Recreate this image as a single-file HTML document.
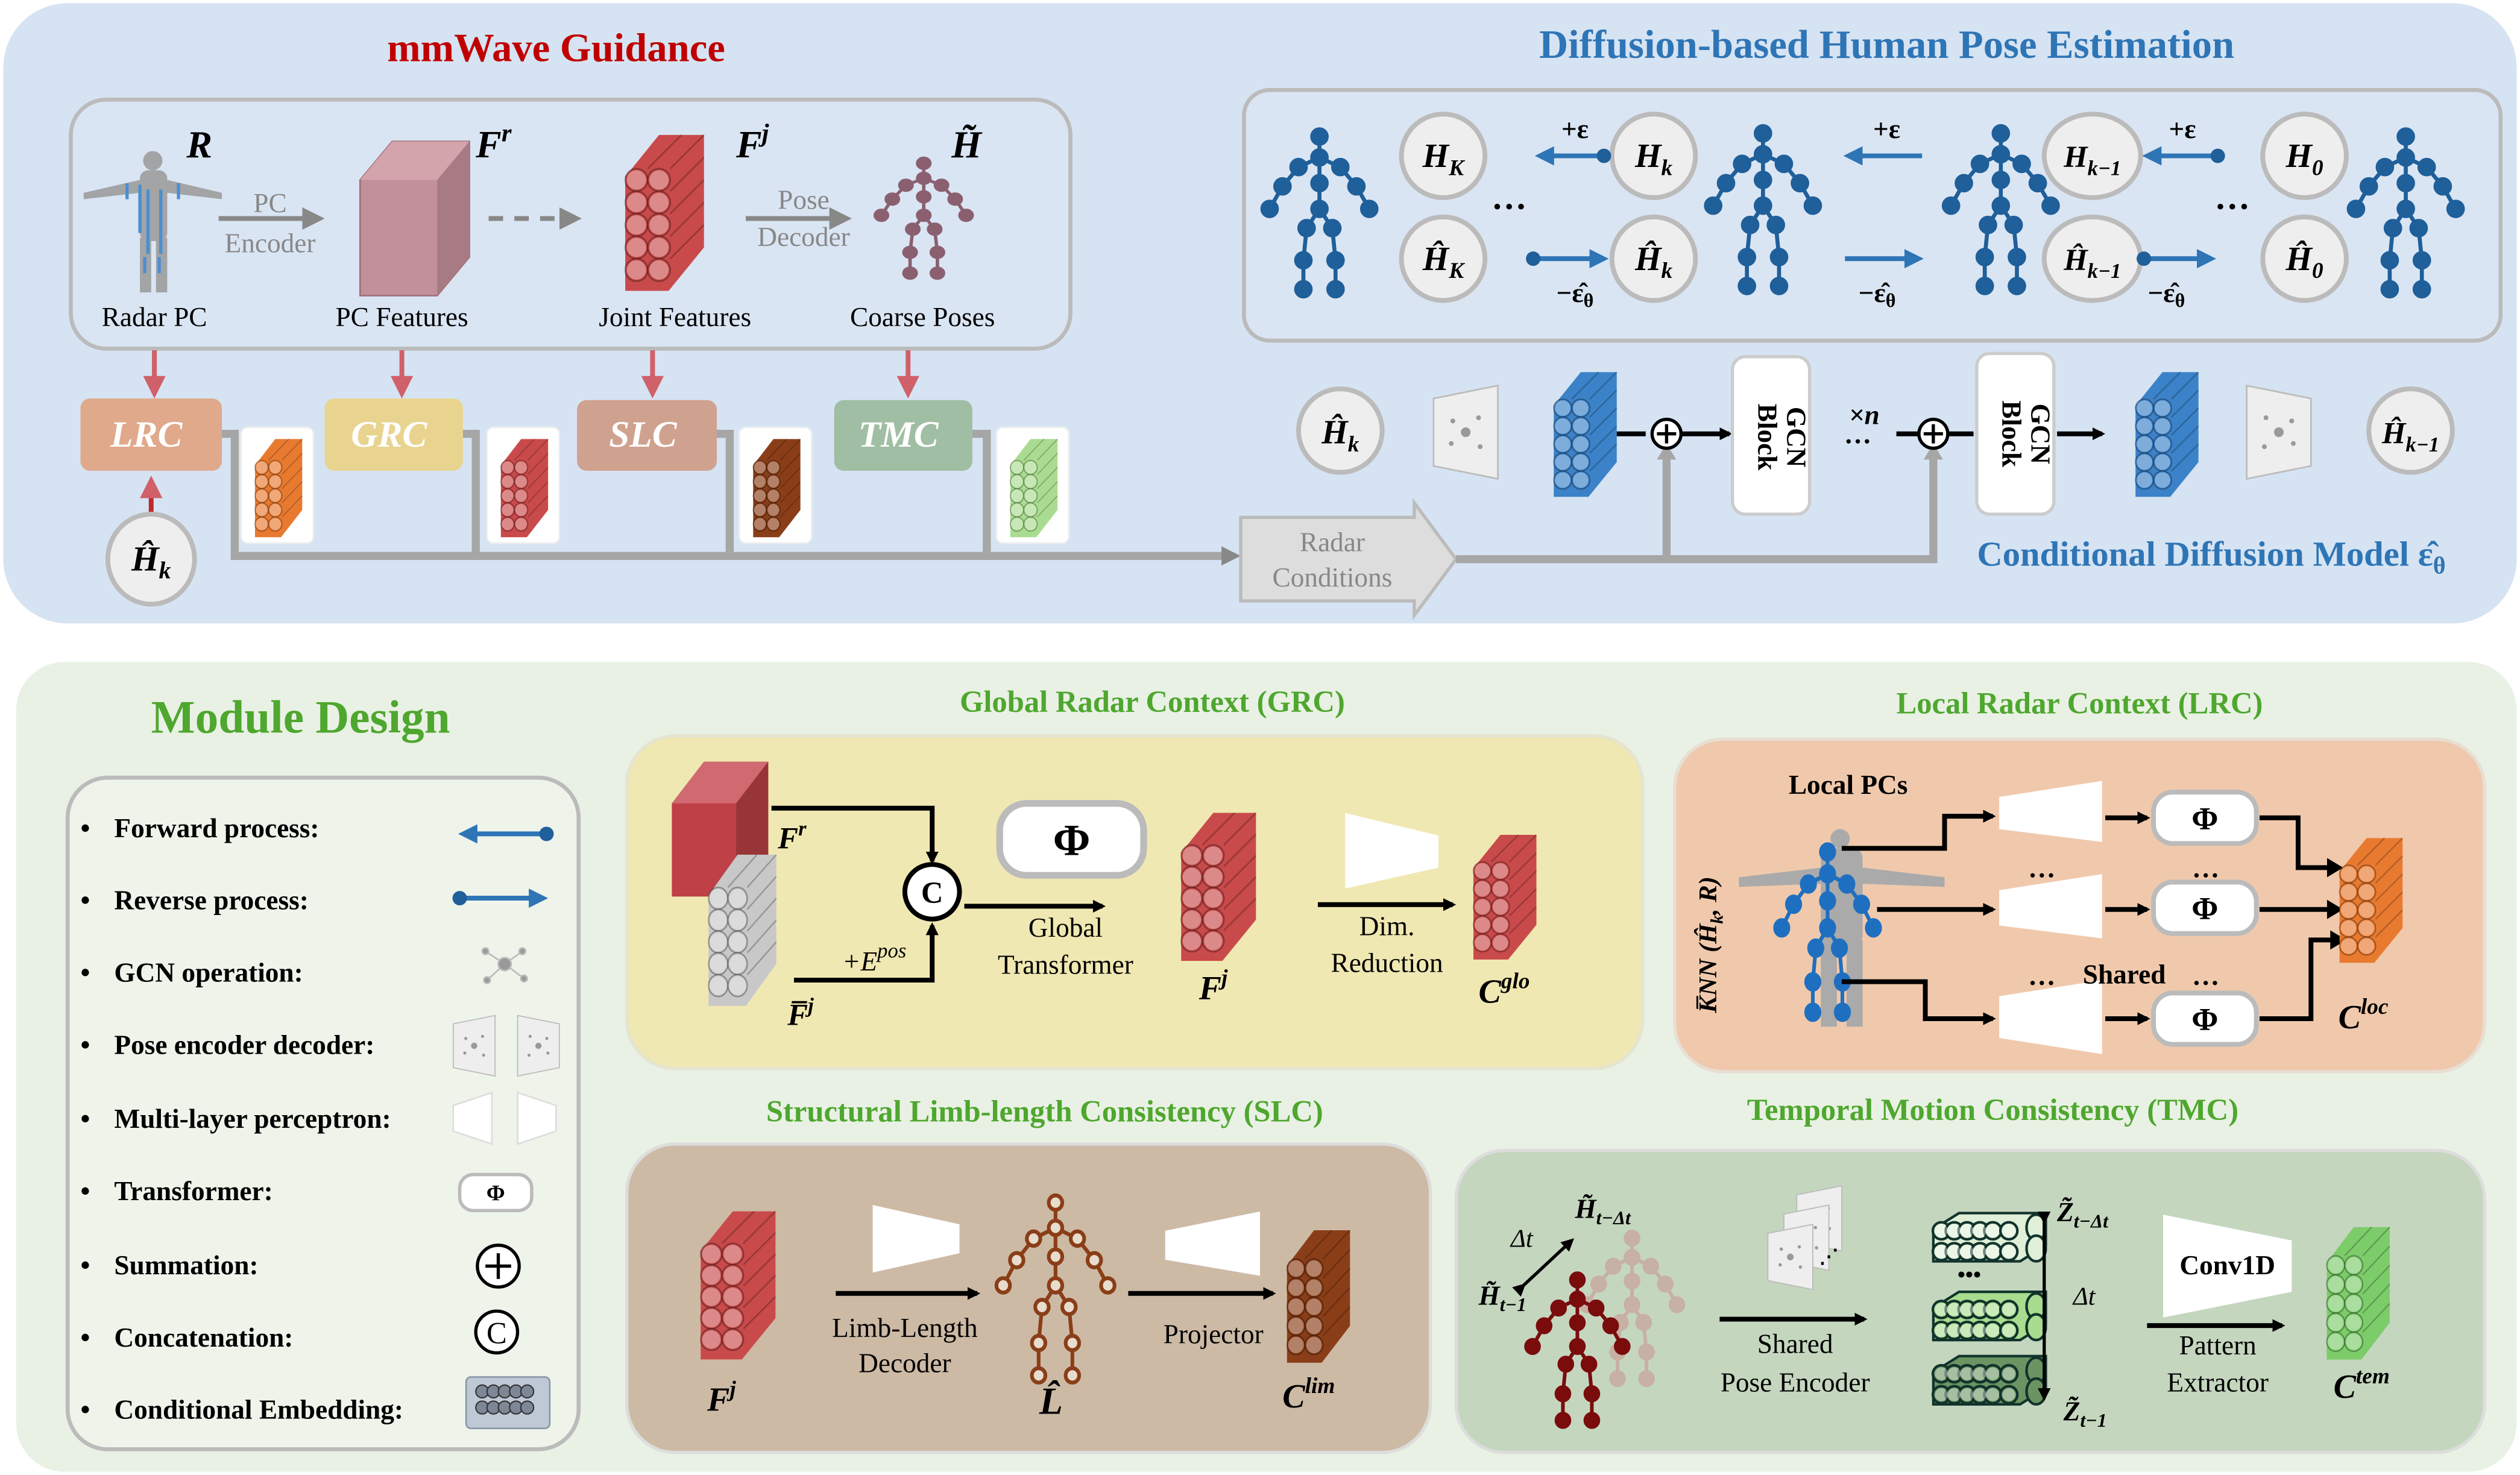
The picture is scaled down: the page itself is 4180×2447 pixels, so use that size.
<!DOCTYPE html>
<html><head><meta charset="utf-8"><style>
html,body{margin:0;padding:0;background:#fff;width:4180px;height:2447px;overflow:hidden}
svg{display:block}
text{font-family:"Liberation Serif",serif}
.m{font-style:italic;font-weight:bold}
.b{font-weight:bold}
.g{fill:#4ea72e;font-weight:bold;font-size:19px}
.lg{font-weight:bold;font-size:17px}
</style></head><body>
<svg width="4180" height="2447" viewBox="0 0 1568 918" xmlns="http://www.w3.org/2000/svg">
<defs>
<marker id="ah" markerWidth="8" markerHeight="8" refX="6" refY="4" orient="auto" markerUnits="userSpaceOnUse"><path d="M0,0 L8,4 L0,8z" fill="#000"/></marker>
<marker id="ahr" markerWidth="14" markerHeight="14" refX="10" refY="7" orient="auto" markerUnits="userSpaceOnUse"><path d="M0,0 L14,7 L0,14z" fill="#d0606a"/></marker>
<marker id="ahb" markerWidth="12" markerHeight="12" refX="9" refY="6" orient="auto" markerUnits="userSpaceOnUse"><path d="M0,0 L12,6 L0,12z" fill="#2e75b6"/></marker>
<marker id="ahg" markerWidth="14" markerHeight="14" refX="10" refY="7" orient="auto" markerUnits="userSpaceOnUse"><path d="M0,0 L14,7 L0,14z" fill="#888"/></marker>
<marker id="dotb" markerWidth="10" markerHeight="10" refX="5" refY="5" markerUnits="userSpaceOnUse"><circle cx="5" cy="5" r="4.5" fill="#1f5f9a"/></marker>
<g id="stk">
<polygon points="1,28 22,2 50,2 50,72 28,99 1,99" fill="currentColor"/>
<g stroke="#000" stroke-opacity=".25" stroke-width="1">
<line x1="15" y1="23" x2="36" y2="2"/><line x1="29" y1="23" x2="50" y2="2"/>
<line x1="29" y1="37" x2="50" y2="16"/><line x1="29" y1="51" x2="50" y2="30"/><line x1="29" y1="65" x2="50" y2="44"/><line x1="29" y1="79" x2="50" y2="58"/>
</g>
<g fill="currentColor" stroke="#000" stroke-opacity=".3">
<circle cx="8" cy="30" r="7"/><circle cx="22" cy="30" r="7"/><circle cx="8" cy="44" r="7"/><circle cx="22" cy="44" r="7"/><circle cx="8" cy="58" r="7"/><circle cx="22" cy="58" r="7"/><circle cx="8" cy="72" r="7"/><circle cx="22" cy="72" r="7"/><circle cx="8" cy="86" r="7"/><circle cx="22" cy="86" r="7"/>
</g>
<g fill="#fff" fill-opacity=".35">
<circle cx="8" cy="30" r="6"/><circle cx="22" cy="30" r="6"/><circle cx="8" cy="44" r="6"/><circle cx="22" cy="44" r="6"/><circle cx="8" cy="58" r="6"/><circle cx="22" cy="58" r="6"/><circle cx="8" cy="72" r="6"/><circle cx="22" cy="72" r="6"/><circle cx="8" cy="86" r="6"/><circle cx="22" cy="86" r="6"/>
</g>
</g>
<g id="hst" stroke="#12332c" stroke-width="1.6">
<polygon points="0,4 16,-6 70,-6 70,14 54,24 0,24" fill="currentColor"/>
<ellipse cx="64" cy="3" rx="6" ry="8" fill="currentColor"/>
<ellipse cx="64" cy="16" rx="6" ry="8" fill="currentColor"/>
<g fill="currentColor"><circle cx="5" cy="5" r="5.3"/><circle cx="13" cy="5" r="5.3"/><circle cx="21" cy="5" r="5.3"/><circle cx="29" cy="5" r="5.3"/><circle cx="37" cy="5" r="5.3"/><circle cx="47" cy="5" r="5.3"/>
<circle cx="5" cy="18" r="5.3"/><circle cx="13" cy="18" r="5.3"/><circle cx="21" cy="18" r="5.3"/><circle cx="29" cy="18" r="5.3"/><circle cx="37" cy="18" r="5.3"/><circle cx="47" cy="18" r="5.3"/></g>
<g fill="#fff" fill-opacity=".4" stroke="none"><circle cx="5" cy="5" r="4"/><circle cx="13" cy="5" r="4"/><circle cx="21" cy="5" r="4"/><circle cx="29" cy="5" r="4"/><circle cx="37" cy="5" r="4"/><circle cx="47" cy="5" r="4"/>
<circle cx="5" cy="18" r="4"/><circle cx="13" cy="18" r="4"/><circle cx="21" cy="18" r="4"/><circle cx="29" cy="18" r="4"/><circle cx="37" cy="18" r="4"/><circle cx="47" cy="18" r="4"/></g>
</g>
<g id="skel" stroke="currentColor" stroke-width="2.5" fill="currentColor">
<path d="M35,5 V18 M22,24 L35,18 L48,24 M22,24 L12,36 L4,50 M48,24 L58,36 L66,50 M35,18 V50 M35,50 L27,62 L25,82 L25,100 M35,50 L43,62 L45,82 L45,100" fill="none"/>
<circle cx="35" cy="5" r="4.5"/><circle cx="35" cy="18" r="4.5"/><circle cx="22" cy="24" r="4.5"/><circle cx="48" cy="24" r="4.5"/><circle cx="12" cy="36" r="4.5"/><circle cx="58" cy="36" r="4.5"/><circle cx="4" cy="50" r="4.5"/><circle cx="66" cy="50" r="4.5"/><circle cx="35" cy="34" r="4.5"/><circle cx="35" cy="50" r="4.5"/><circle cx="27" cy="62" r="4.5"/><circle cx="43" cy="62" r="4.5"/><circle cx="25" cy="82" r="4.5"/><circle cx="45" cy="82" r="4.5"/><circle cx="25" cy="100" r="4.5"/><circle cx="45" cy="100" r="4.5"/>
</g>
<g id="penc">
<polygon points="0,8 40,0 40,58 0,50" fill="#eee" stroke="#bbb"/>
<g fill="#999"><circle cx="20" cy="29" r="3"/><circle cx="12" cy="22" r="1.5"/><circle cx="28" cy="20" r="1.5"/><circle cx="11" cy="36" r="1.5"/><circle cx="29" cy="38" r="1.5"/></g>
</g>
<g id="circ"><circle cx="0" cy="0" r="26" fill="#eee" stroke="#bbb" stroke-width="3"/></g>
<g id="phi"><rect x="0" y="0" width="64" height="32" rx="12" fill="#fff" stroke="#bbb" stroke-width="3"/><text x="32" y="23" text-anchor="middle" class="b" font-size="20">Φ</text></g>
</defs>

<!-- TOP PANEL -->
<rect x="2" y="2" width="1564" height="386" rx="40" fill="#d6e3f2"/>
<text x="346" y="38" text-anchor="middle" class="b" font-size="25" fill="#c00000">mmWave Guidance</text>
<text x="1174" y="36" text-anchor="middle" class="b" font-size="25" fill="#2e75b6">Diffusion-based Human Pose Estimation</text>
<rect x="44" y="62" width="622" height="155" rx="22" fill="#dae5f3" stroke="#bbb" stroke-width="2.5"/>
<rect x="774" y="56" width="782" height="156" rx="16" fill="#dae5f3" stroke="#bbb" stroke-width="2.5"/>

<!-- radar PC person -->
<g fill="#999" opacity=".85">
<circle cx="95" cy="100" r="6"/><rect x="87" y="106" width="17" height="44" rx="5"/>
<polygon points="52,120 87,112 104,112 138,120 138,124 104,120 87,120 52,124"/>
<rect x="87" y="148" width="7" height="34" /><rect x="97" y="148" width="7" height="34"/>
</g>
<g fill="#4a8fd0"><rect x="86" y="115" width="2" height="30"/><rect x="91" y="118" width="2" height="40"/><rect x="99" y="118" width="2" height="40"/><rect x="78" y="114" width="2" height="10"/><rect x="110" y="114" width="2" height="10"/><rect x="89" y="160" width="2" height="10"/><rect x="98" y="160" width="2" height="10"/></g>
<text x="116" y="98" class="m" font-size="24">R</text>
<line x1="136" y1="136" x2="198" y2="136" stroke="#888" stroke-width="3" marker-end="url(#ahg)"/>
<text x="168" y="132" text-anchor="middle" font-size="17" fill="#888">PC</text>
<text x="168" y="157" text-anchor="middle" font-size="17" fill="#888">Encoder</text>
<!-- PC feature cube -->
<polygon points="224,112 244,88 292,88 292,160 272,184 224,184" fill="#c2909a" stroke="#a0707a"/>
<polygon points="224,112 244,88 292,88 272,112" fill="#d4a4ac"/>
<polygon points="272,112 292,88 292,160 272,184" fill="#a77a84"/>
<text x="296" y="98" class="m" font-size="24">F<tspan font-size="16" dy="-10">r</tspan></text>
<line x1="304" y1="136" x2="358" y2="136" stroke="#888" stroke-width="3" stroke-dasharray="9,7" marker-end="url(#ahg)"/>
<use href="#stk" x="388" y="82" style="color:#c94a4a"/>
<text x="458" y="98" class="m" font-size="24">F<tspan font-size="16" dy="-10">j</tspan></text>
<line x1="464" y1="136" x2="526" y2="136" stroke="#888" stroke-width="3" marker-end="url(#ahg)"/>
<text x="500" y="130" text-anchor="middle" font-size="17" fill="#888">Pose</text>
<text x="500" y="153" text-anchor="middle" font-size="17" fill="#888">Decoder</text>
<use href="#skel" transform="translate(545 98) scale(.85 .72)" style="color:#8a6070"/>
<text x="592" y="98" class="m" font-size="24">H̃</text>
<g font-size="17" text-anchor="middle"><text x="96" y="203">Radar PC</text><text x="250" y="203">PC Features</text><text x="420" y="203">Joint Features</text><text x="574" y="203">Coarse Poses</text></g>
<g stroke="#d0606a" stroke-width="3"><line x1="96" y1="218" x2="96" y2="244" marker-end="url(#ahr)"/><line x1="250" y1="218" x2="250" y2="244" marker-end="url(#ahr)"/><line x1="406" y1="218" x2="406" y2="244" marker-end="url(#ahr)"/><line x1="565" y1="218" x2="565" y2="244" marker-end="url(#ahr)"/></g>
<!-- gray connectors -->
<path d="M138,270 H146 V346 H760 M288,270 H296 V346 M446,270 H454 V346 M605,270 H614 V346" fill="none" stroke="#a6a6a6" stroke-width="5"/>
<path d="M760,340 L772,346 L760,352z" fill="#888"/>
<rect x="50" y="248" width="88" height="45" rx="6" fill="#e0a98b"/>
<rect x="202" y="248" width="86" height="45" rx="6" fill="#e8d48f"/>
<rect x="359" y="249" width="87" height="44" rx="6" fill="#cfa28f"/>
<rect x="519" y="249" width="86" height="44" rx="6" fill="#a0bea3"/>
<g class="m" font-size="23" fill="#fff" text-anchor="middle"><text x="91" y="278">LRC</text><text x="242" y="278">GRC</text><text x="400" y="278">SLC</text><text x="559" y="278">TMC</text></g>
<g fill="#fff" stroke="#eee"><rect x="150" y="266" width="45" height="72" rx="4"/><rect x="303" y="266" width="45" height="72" rx="4"/><rect x="460" y="266" width="45" height="72" rx="4"/><rect x="620" y="266" width="45" height="72" rx="4"/></g>
<use href="#stk" transform="translate(158 272) scale(.6 .63)" style="color:#e87a30"/>
<use href="#stk" transform="translate(311 272) scale(.6 .63)" style="color:#c94a4a"/>
<use href="#stk" transform="translate(468 272) scale(.6 .63)" style="color:#8a3e18"/>
<use href="#stk" transform="translate(628 272) scale(.6 .63)" style="color:#a9dc90"/>
<line x1="94" y1="322" x2="94" y2="300" stroke="#c0282e" stroke-width="3" marker-end="url(#ahr)"/>
<ellipse cx="94" cy="348" rx="27" ry="28" fill="#eee" stroke="#bbb" stroke-width="3"/>
<text x="94" y="355" text-anchor="middle" class="m" font-size="22">Ĥ<tspan font-size="15" dy="5">k</tspan></text>
<!-- Radar conditions -->
<polygon points="772,322 880,322 880,313 906,348 880,383 880,374 772,374" fill="#ddd" stroke="#bbb" stroke-width="2"/>
<text x="829" y="343" text-anchor="middle" font-size="17" fill="#888">Radar</text>
<text x="829" y="365" text-anchor="middle" font-size="17" fill="#888">Conditions</text>
<path d="M906,348 H1203 V284 M1037,348 V284" fill="none" stroke="#a6a6a6" stroke-width="5"/>
<path d="M1031,286 L1037,276 L1043,286z M1197,286 L1203,276 L1209,286z" fill="#a6a6a6"/>

<!-- diffusion row -->
<g style="color:#1f5f9a">
<use href="#skel" x="786" y="80"/><use href="#skel" x="1062" y="78"/><use href="#skel" x="1210" y="78"/><use href="#skel" x="1462" y="80"/>
</g>
<g class="m" font-size="21" text-anchor="middle">
<use href="#circ" x="898" y="97"/><text x="898" y="104">H<tspan font-size="14" dy="5">K</tspan></text>
<use href="#circ" x="898" y="161"/><text x="898" y="168">Ĥ<tspan font-size="14" dy="5">K</tspan></text>
<use href="#circ" x="1029" y="97"/><text x="1029" y="104">H<tspan font-size="14" dy="5">k</tspan></text>
<use href="#circ" x="1029" y="161"/><text x="1029" y="168">Ĥ<tspan font-size="14" dy="5">k</tspan></text>
<ellipse cx="1302" cy="97" rx="30" ry="26" fill="#eee" stroke="#bbb" stroke-width="3"/><text x="1302" y="104" font-size="19">H<tspan font-size="13" dy="5">k−1</tspan></text>
<ellipse cx="1302" cy="161" rx="30" ry="26" fill="#eee" stroke="#bbb" stroke-width="3"/><text x="1302" y="168" font-size="19">Ĥ<tspan font-size="13" dy="5">k−1</tspan></text>
<use href="#circ" x="1434" y="97"/><text x="1434" y="104">H<tspan font-size="14" dy="5">0</tspan></text>
<use href="#circ" x="1434" y="161"/><text x="1434" y="168">Ĥ<tspan font-size="14" dy="5">0</tspan></text>
</g>
<g class="b" font-size="22"><text x="928" y="130">…</text><text x="1378" y="130">…</text></g>
<g stroke="#2e75b6" stroke-width="3">
<line x1="998" y1="97" x2="958" y2="97" marker-start="url(#dotb)" marker-end="url(#ahb)"/>
<line x1="1196" y1="97" x2="1150" y2="97" marker-end="url(#ahb)"/>
<line x1="1380" y1="97" x2="1336" y2="97" marker-start="url(#dotb)" marker-end="url(#ahb)"/>
<line x1="954" y1="161" x2="998" y2="161" marker-start="url(#dotb)" marker-end="url(#ahb)"/>
<line x1="1148" y1="161" x2="1194" y2="161" marker-end="url(#ahb)"/>
<line x1="1334" y1="161" x2="1376" y2="161" marker-start="url(#dotb)" marker-end="url(#ahb)"/>
</g>
<g class="b" font-size="17" text-anchor="middle">
<text x="980" y="86">+ε</text><text x="1174" y="86">+ε</text><text x="1358" y="86">+ε</text>
<text x="980" y="188">−ε̂<tspan font-size="12" dy="3">θ</tspan></text><text x="1168" y="188">−ε̂<tspan font-size="12" dy="3">θ</tspan></text><text x="1348" y="188">−ε̂<tspan font-size="12" dy="3">θ</tspan></text>
</g>
<!-- conditional diffusion row -->
<use href="#circ" x="834" y="268"/><text x="834" y="276" text-anchor="middle" class="m" font-size="21">Ĥ<tspan font-size="14" dy="5">k</tspan></text>
<use href="#penc" x="892" y="240"/>
<use href="#stk" transform="translate(966 230) scale(.8)" style="color:#3b82c8"/>
<line x1="1006" y1="270" x2="1024" y2="270" stroke="#000" stroke-width="3"/>
<circle cx="1037" cy="270" r="9" fill="#fff" stroke="#000" stroke-width="2"/><path d="M1031,270 H1043 M1037,264 V276" stroke="#000" stroke-width="2"/>
<line x1="1046" y1="270" x2="1076" y2="270" stroke="#000" stroke-width="3" marker-end="url(#ah)"/>
<rect x="1078" y="222" width="48" height="98" rx="8" fill="#fff" stroke="#ccc" stroke-width="2"/>
<text transform="translate(1112 272) rotate(90)" text-anchor="middle" class="b" font-size="17">GCN</text>
<text transform="translate(1094 272) rotate(90)" text-anchor="middle" class="b" font-size="17">Block</text>
<text x="1160" y="264" text-anchor="middle" class="m" font-size="17">×n</text><text x="1156" y="276" text-anchor="middle" class="b" font-size="17">…</text>
<line x1="1180" y1="270" x2="1194" y2="270" stroke="#000" stroke-width="3"/>
<circle cx="1203" cy="270" r="9" fill="#fff" stroke="#000" stroke-width="2"/><path d="M1197,270 H1209 M1203,264 V276" stroke="#000" stroke-width="2"/>
<line x1="1212" y1="270" x2="1228" y2="270" stroke="#000" stroke-width="3"/>
<rect x="1230" y="220" width="48" height="100" rx="8" fill="#fff" stroke="#ccc" stroke-width="2"/>
<text transform="translate(1264 270) rotate(90)" text-anchor="middle" class="b" font-size="17">GCN</text>
<text transform="translate(1246 270) rotate(90)" text-anchor="middle" class="b" font-size="17">Block</text>
<line x1="1280" y1="270" x2="1308" y2="270" stroke="#000" stroke-width="3" marker-end="url(#ah)"/>
<use href="#stk" transform="translate(1328 230) scale(.8)" style="color:#3b82c8"/>
<use href="#penc" transform="translate(1438 240) scale(-1 1)"/>
<use href="#circ" x="1500" y="268"/><text x="1500" y="276" text-anchor="middle" class="m" font-size="19">Ĥ<tspan font-size="13" dy="5">k−1</tspan></text>
<text x="1376" y="352" text-anchor="middle" class="b" font-size="22" fill="#2e75b6">Conditional Diffusion Model ε̂<tspan font-size="15" dy="5">θ</tspan></text>

<!-- BOTTOM PANEL -->
<rect x="10" y="412" width="1556" height="504" rx="30" fill="#e9f1e4"/>
<text x="187" y="456" text-anchor="middle" class="b" font-size="29" fill="#4ea72e">Module Design</text>
<rect x="42" y="484" width="318" height="418" rx="25" fill="#eef4ea" stroke="#bbb" stroke-width="2.5"/>
<g class="lg">
<text x="50" y="521">•</text><text x="71" y="521">Forward process:</text>
<text x="50" y="566">•</text><text x="71" y="566">Reverse process:</text>
<text x="50" y="611">•</text><text x="71" y="611">GCN operation:</text>
<text x="50" y="656">•</text><text x="71" y="656">Pose encoder decoder:</text>
<text x="50" y="702">•</text><text x="71" y="702">Multi-layer perceptron:</text>
<text x="50" y="747">•</text><text x="71" y="747">Transformer:</text>
<text x="50" y="793">•</text><text x="71" y="793">Summation:</text>
<text x="50" y="838">•</text><text x="71" y="838">Concatenation:</text>
<text x="50" y="883">•</text><text x="71" y="883">Conditional Embedding:</text>
</g>
<g stroke="#2e75b6" stroke-width="3">
<line x1="340" y1="519" x2="288" y2="519" marker-start="url(#dotb)" marker-end="url(#ahb)"/>
<line x1="286" y1="559" x2="338" y2="559" marker-start="url(#dotb)" marker-end="url(#ahb)"/>
</g>
<g fill="#999" stroke="#bbb" stroke-width="1"><path d="M314,600 L302,592 M314,600 L325,592 M314,600 L303,610 M314,600 L326,609"/><circle cx="314" cy="600" r="4"/><circle cx="302" cy="592" r="2"/><circle cx="325" cy="592" r="2"/><circle cx="303" cy="610" r="2"/><circle cx="326" cy="609" r="2"/></g>
<use href="#penc" transform="translate(282 632) scale(.65)"/>
<use href="#penc" transform="translate(348 632) scale(-.65 .65)"/>
<polygon points="282,688 306,680 306,712 282,704" fill="#fff" stroke="#ddd"/>
<polygon points="322,680 346,688 346,704 322,712" fill="#fff" stroke="#ddd"/>
<use href="#phi" transform="translate(286 731) scale(.7)"/>
<circle cx="310" cy="788" r="13" fill="#fff" stroke="#000" stroke-width="2"/><path d="M302,788 H318 M310,780 V796" stroke="#000" stroke-width="2"/>
<circle cx="309" cy="829" r="13" fill="#fff" stroke="#000" stroke-width="2"/><text x="309" y="836" text-anchor="middle" font-size="19">C</text>
<rect x="290" y="857" width="52" height="32" rx="3" fill="#bfc9d6" stroke="#8a96a8"/>
<g fill="#7d8796" stroke="#333" stroke-width=".8"><circle cx="300" cy="866" r="4"/><circle cx="307" cy="866" r="4"/><circle cx="314" cy="866" r="4"/><circle cx="321" cy="866" r="4"/><circle cx="328" cy="866" r="4"/><circle cx="300" cy="876" r="4"/><circle cx="307" cy="876" r="4"/><circle cx="314" cy="876" r="4"/><circle cx="321" cy="876" r="4"/><circle cx="328" cy="876" r="4"/></g>

<!-- GRC -->
<text x="717" y="443" text-anchor="middle" class="g">Global Radar Context (GRC)</text>
<rect x="390" y="458" width="632" height="207" rx="30" fill="#f0e8b2" stroke="#e4e4d0" stroke-width="2"/>
<polygon points="418,500 438,474 478,474 478,532 458,558 418,558" fill="#c04048"/>
<polygon points="418,500 438,474 478,474 458,500" fill="#d06a70"/>
<polygon points="458,500 478,474 478,532 458,558" fill="#983538"/>
<use href="#stk" transform="translate(440 530) scale(.86 .97)" style="color:#c8c8c8"/>
<path d="M480,503 H580 V536" fill="none" stroke="#000" stroke-width="3" marker-end="url(#ah)"/>
<path d="M494,610 H580 V576" fill="none" stroke="#000" stroke-width="3" marker-end="url(#ah)"/>
<circle cx="580" cy="555" r="17" fill="#fff" stroke="#000" stroke-width="3"/><text x="580" y="562" text-anchor="middle" class="b" font-size="19" font-family="Liberation Sans,sans-serif">C</text>
<text x="484" y="528" class="m" font-size="19">F<tspan font-size="13" dy="-8">r</tspan></text>
<text x="490" y="638" class="m" font-size="19">F̅<tspan font-size="13" dy="-8">j</tspan></text>
<text x="524" y="604" font-style="italic" font-size="17">+E<tspan font-size="13" dy="-8">pos</tspan></text>
<use href="#phi" transform="translate(622 500) scale(1.4)"/>
<line x1="600" y1="564" x2="686" y2="564" stroke="#000" stroke-width="3" marker-end="url(#ah)"/>
<text x="663" y="583" text-anchor="middle" font-size="17">Global</text>
<text x="663" y="606" text-anchor="middle" font-size="17">Transformer</text>
<use href="#stk" transform="translate(734 504) scale(.95)" style="color:#c94a4a"/>
<text x="746" y="622" class="m" font-size="21">F<tspan font-size="14" dy="-9">j</tspan></text>
<polygon points="837,506 895,520 895,540 837,553" fill="#fff"/>
<line x1="820" y1="563" x2="904" y2="563" stroke="#000" stroke-width="3" marker-end="url(#ah)"/>
<text x="863" y="582" text-anchor="middle" font-size="17">Dim.</text>
<text x="863" y="605" text-anchor="middle" font-size="17">Reduction</text>
<use href="#stk" transform="translate(916 518) scale(.8)" style="color:#c94a4a"/>
<text x="920" y="624" class="m" font-size="21">C<tspan font-size="14" dy="-9">glo</tspan></text>

<!-- LRC -->
<text x="1294" y="444" text-anchor="middle" class="g">Local Radar Context (LRC)</text>
<rect x="1042" y="460" width="504" height="207" rx="30" fill="#f0c9ac" stroke="#e8ded4" stroke-width="2"/>
<text x="1150" y="494" text-anchor="middle" class="b" font-size="17">Local PCs</text>
<text transform="translate(1068 588) rotate(-90)" text-anchor="middle" class="m" font-size="16">K̅NN (Ĥ<tspan font-size="11" dy="4">k</tspan><tspan dy="-4">, R)</tspan></text>
<g fill="#aaa"><circle cx="1145" cy="522" r="6"/><rect x="1133" y="528" width="26" height="60" rx="6"/><polygon points="1082,546 1133,540 1159,540 1210,546 1210,552 1159,550 1133,550 1082,552"/><rect x="1133" y="585" width="10" height="54"/><rect x="1149" y="585" width="10" height="54"/></g>
<g style="color:#1f6fc0"><use href="#skel" transform="translate(1105 525) scale(.92 1.05)"/></g>
<path d="M1146,528 H1210 V508 H1240" fill="none" stroke="#000" stroke-width="3" marker-end="url(#ah)"/>
<path d="M1168,566 H1240" fill="none" stroke="#000" stroke-width="3" marker-end="url(#ah)"/>
<path d="M1146,611 H1198 V634 H1240" fill="none" stroke="#000" stroke-width="3" marker-end="url(#ah)"/>
<g fill="#fff"><polygon points="1244,496 1308,486 1308,524 1244,516"/><polygon points="1244,554 1308,544 1308,584 1244,576"/><polygon points="1244,620 1308,610 1308,656 1244,646"/></g>
<g stroke="#000" stroke-width="3"><line x1="1310" y1="509" x2="1336" y2="509" marker-end="url(#ah)"/><line x1="1310" y1="566" x2="1336" y2="566" marker-end="url(#ah)"/><line x1="1310" y1="634" x2="1336" y2="634" marker-end="url(#ah)"/></g>
<use href="#phi" transform="translate(1340 493)"/>
<use href="#phi" transform="translate(1340 549)"/><use href="#phi" transform="translate(1340 618)"/>
<g class="b" font-size="17"><text x="1262" y="546">…</text><text x="1364" y="546">…</text><text x="1262" y="613">…</text><text x="1364" y="613">…</text><text x="1296" y="612">Shared</text></g>
<path d="M1406,509 H1430 V540 H1450 M1406,566 H1450 M1406,634 H1438 V585 H1452" fill="none" stroke="#000" stroke-width="3"/>
<path d="M1448,534 L1458,540 L1448,546z M1448,560 L1458,566 L1448,572z M1450,579 L1460,585 L1450,591z" fill="#000"/>
<use href="#stk" transform="translate(1455 520) scale(.8)" style="color:#e87a30"/>
<text x="1455" y="640" class="m" font-size="21">C<tspan font-size="14" dy="-9">loc</tspan></text>

<!-- SLC -->
<text x="650" y="698" text-anchor="middle" class="g">Structural Limb-length Consistency (SLC)</text>
<rect x="390" y="712" width="500" height="192" rx="30" fill="#cdbaa5" stroke="#ddd" stroke-width="2"/>
<use href="#stk" transform="translate(435 752) scale(.95)" style="color:#c94a4a"/>
<text x="440" y="878" class="m" font-size="21">F<tspan font-size="14" dy="-9">j</tspan></text>
<polygon points="543,750 597,762 597,780 543,792" fill="#fff"/>
<line x1="520" y1="805" x2="608" y2="805" stroke="#000" stroke-width="3" marker-end="url(#ah)"/>
<text x="563" y="832" text-anchor="middle" font-size="17">Limb-Length</text>
<text x="563" y="854" text-anchor="middle" font-size="17">Decoder</text>
<g transform="translate(620 744) scale(1.05 1.12)" fill="#e8dccd" stroke="#8a3e18" stroke-width="2.2">
<path d="M35,5 V18 M22,24 L35,18 L48,24 M22,24 L12,36 L4,50 M48,24 L58,36 L66,50 M35,18 V50 M35,50 L27,62 L25,82 L25,100 M35,50 L43,62 L45,82 L45,100" fill="none"/>
<circle cx="35" cy="4" r="4"/><circle cx="35" cy="18" r="4"/><circle cx="22" cy="24" r="4"/><circle cx="48" cy="24" r="4"/><circle cx="12" cy="36" r="4"/><circle cx="58" cy="36" r="4"/><circle cx="4" cy="50" r="4"/><circle cx="66" cy="50" r="4"/><circle cx="35" cy="34" r="4"/><circle cx="35" cy="50" r="4"/><circle cx="27" cy="62" r="4"/><circle cx="43" cy="62" r="4"/><circle cx="25" cy="82" r="4"/><circle cx="45" cy="82" r="4"/><circle cx="25" cy="100" r="4"/><circle cx="45" cy="100" r="4"/>
</g>
<text x="654" y="880" text-anchor="middle" class="m" font-size="24">L̂</text>
<polygon points="725,766 784,754 784,794 725,784" fill="#fff"/>
<line x1="702" y1="805" x2="792" y2="805" stroke="#000" stroke-width="3" marker-end="url(#ah)"/>
<text x="755" y="836" text-anchor="middle" font-size="17">Projector</text>
<use href="#stk" transform="translate(800 764) scale(.8 .85)" style="color:#8a3e18"/>
<text x="798" y="876" class="m" font-size="21">C<tspan font-size="14" dy="-9">lim</tspan></text>

<!-- TMC -->
<text x="1240" y="697" text-anchor="middle" class="g">Temporal Motion Consistency (TMC)</text>
<rect x="906" y="716" width="640" height="188" rx="30" fill="#c5d6bf" stroke="#ddd" stroke-width="2"/>
<g transform="translate(984 766) scale(.9 .92)" opacity=".7"><use href="#skel" style="color:#c8a09a"/></g>
<g transform="translate(950 792) scale(.9 .92)" style="color:#7a0c0c"><use href="#skel"/></g>
<text x="980" y="758" class="m" font-size="17">H̃<tspan font-size="12" dy="4">t−Δt</tspan></text>
<text x="920" y="812" class="m" font-size="17">H̃<tspan font-size="12" dy="4">t−1</tspan></text>
<text x="940" y="776" font-style="italic" font-size="16">Δt</text>
<line x1="948" y1="800" x2="978" y2="772" stroke="#000" stroke-width="2" marker-start="url(#ah)" marker-end="url(#ah)"/>
<use href="#penc" transform="translate(1118 738) scale(.7)"/>
<use href="#penc" transform="translate(1110 750) scale(.7)"/>
<use href="#penc" transform="translate(1100 762) scale(.7)"/>
<text x="1132" y="786" class="b" font-size="12">⋰</text>
<line x1="1070" y1="821" x2="1160" y2="821" stroke="#000" stroke-width="3" marker-end="url(#ah)"/>
<text x="1117" y="842" text-anchor="middle" font-size="17">Shared</text>
<text x="1117" y="866" text-anchor="middle" font-size="17">Pose Encoder</text>
<use href="#hst" transform="translate(1203 761)" style="color:#e0f0d8"/>
<use href="#hst" transform="translate(1203 810)" style="color:#a8dc8e"/>
<use href="#hst" transform="translate(1203 850)" style="color:#6a9462"/>
<text x="1218" y="798" class="b" font-size="14">•••</text>
<line x1="1272" y1="760" x2="1272" y2="870" stroke="#000" stroke-width="2" marker-start="url(#ah)" marker-end="url(#ah)"/>
<text x="1280" y="760" class="m" font-size="17">Z̃<tspan font-size="12" dy="4">t−Δt</tspan></text>
<text x="1290" y="812" font-style="italic" font-size="16">Δt</text>
<text x="1284" y="884" class="m" font-size="17">Z̃<tspan font-size="12" dy="4">t−1</tspan></text>
<polygon points="1346,756 1426,772 1426,804 1346,820" fill="#fff"/>
<text x="1386" y="793" text-anchor="middle" class="b" font-size="17">Conv1D</text>
<line x1="1336" y1="825" x2="1420" y2="825" stroke="#000" stroke-width="3" marker-end="url(#ah)"/>
<text x="1380" y="843" text-anchor="middle" font-size="17">Pattern</text>
<text x="1380" y="866" text-anchor="middle" font-size="17">Extractor</text>
<use href="#stk" transform="translate(1447 762) scale(.8 .85)" style="color:#7ccc6a"/>
<text x="1452" y="870" class="m" font-size="21">C<tspan font-size="14" dy="-9">tem</tspan></text>
</svg>
</body></html>
